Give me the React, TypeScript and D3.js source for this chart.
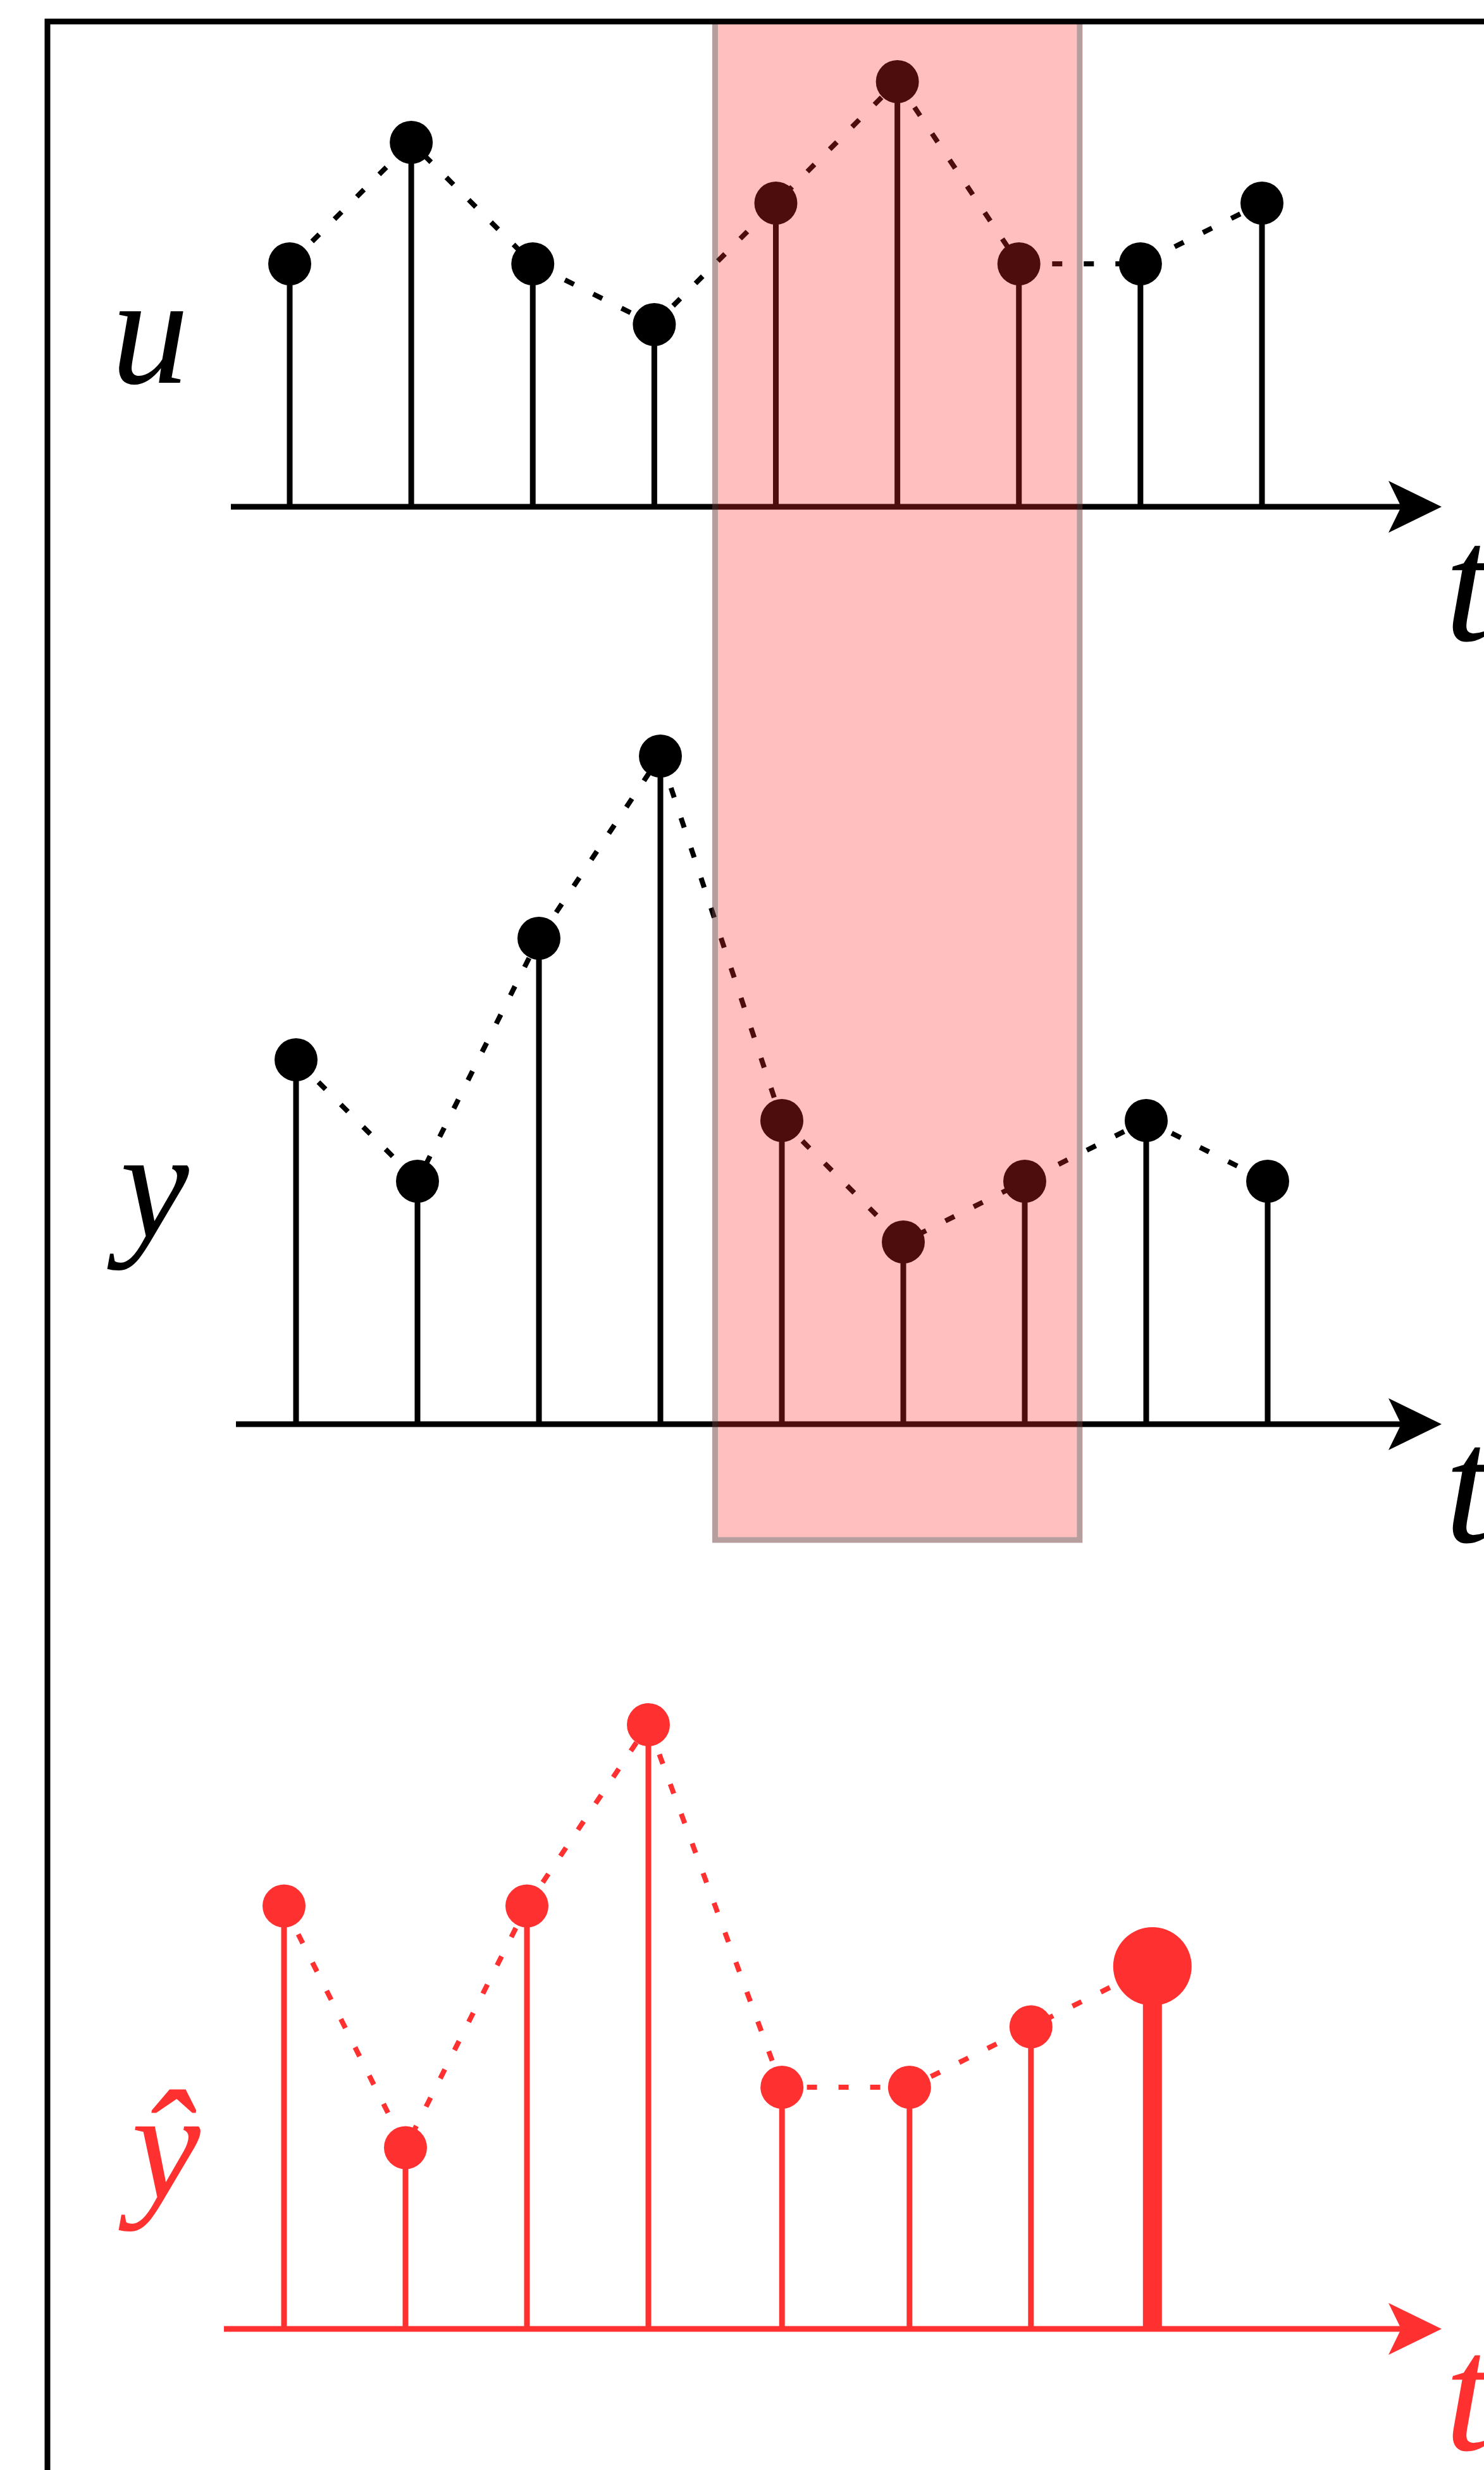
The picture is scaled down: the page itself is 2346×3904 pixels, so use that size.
import React from 'react';
import * as d3 from 'd3';

const W = 2346;
const H = 3904;

// Input signal u(t), measured output y(t) and the predicted output ŷ(t)
const steps = [0, 1, 2, 3, 4, 5, 6, 7, 8];
const uValues = [4, 6, 4, 3, 5, 7, 4, 4, 5];
const yValues = [6, 4, 8, 11, 5, 3, 4, 5, 4];
const yhatSteps = [0, 1, 2, 3, 4.1, 5.15, 6.15, 7.15];
const yhatValues = [7, 3, 7, 10, 4, 4, 5, 6];
// steps covered by the sliding window
const windowSteps = [3.5, 6.5];
const seriesLabels = ['u', 'y', 'ŷ'];
const axisLabel = 't';

const BLACK = '#000000';
const RED = '#ff3030';
const FONT = "'Liberation Serif', 'DejaVu Serif', serif";

type Pt = { t: number; v: number };

function Arrow({ tipX, y, color }: { tipX: number; y: number; color: string }) {
  const p = d3.path();
  p.moveTo(tipX, y);
  p.lineTo(tipX - 84, y - 41);
  p.lineTo(tipX - 64, y);
  p.lineTo(tipX - 84, y + 41);
  p.closePath();
  return <path d={p.toString()} fill={color} />;
}

function StemPanel({
  data,
  x,
  y,
  color,
  axisStart,
  axisEnd,
  label,
  labelX,
  labelY,
  tBaseline,
  emphasizeLast,
}: {
  data: Pt[];
  x: d3.ScaleLinear<number, number>;
  y: d3.ScaleLinear<number, number>;
  color: string;
  axisStart: number;
  axisEnd: number;
  label: string;
  labelX: number;
  labelY: number;
  tBaseline: number;
  emphasizeLast?: boolean;
}) {
  const base = y(0);
  const line = d3
    .line<Pt>()
    .x((d) => x(d.t))
    .y((d) => y(d.v));
  return (
    <g>
      <line x1={axisStart} x2={axisEnd - 60} y1={base} y2={base} stroke={color} strokeWidth={9} />
      <Arrow tipX={axisEnd} y={base} color={color} />
      <path d={line(data) || ''} fill="none" stroke={color} strokeWidth={8} strokeDasharray="16 34" />
      {data.map((d, i) => {
        const big = emphasizeLast && i === data.length - 1;
        return (
          <g key={i}>
            <line
              x1={x(d.t)}
              x2={x(d.t)}
              y1={base}
              y2={y(d.v)}
              stroke={color}
              strokeWidth={big ? 30 : 9}
            />
            <circle cx={x(d.t)} cy={y(d.v)} r={big ? 62 : 34} fill={color} />
          </g>
        );
      })}
      <text
        x={labelX}
        y={labelY}
        fontFamily={FONT}
        fontStyle="italic"
        fontSize={245}
        fill={color}
      >
        {label}
      </text>
      <text
        x={2284}
        y={tBaseline}
        fontFamily={FONT}
        fontStyle="italic"
        fontSize={265}
        fill={color}
      >
        {axisLabel}
      </text>
    </g>
  );
}

export default function App() {
  const xU = d3.scaleLinear().domain([0, 8]).range([458, 1995]);
  const xY = d3.scaleLinear().domain([0, 8]).range([468, 2004]);
  const xHat = d3.scaleLinear().domain([0, 1]).range([449, 641]);

  const yU = d3.scaleLinear().domain([0, 1]).range([801, 705]);
  const yY = d3.scaleLinear().domain([0, 1]).range([2251, 2155]);
  const yHat = d3.scaleLinear().domain([0, 1]).range([3681, 3585.5]);

  const uData: Pt[] = steps.map((t, i) => ({ t, v: uValues[i] }));
  const yData: Pt[] = steps.map((t, i) => ({ t, v: yValues[i] }));
  const hatData: Pt[] = yhatSteps.map((t, i) => ({ t, v: yhatValues[i] }));

  const wx0 = xU(windowSteps[0]);
  const wx1 = xU(windowSteps[1]);
  const wTop = 38;
  const wBottom = 2434;
  const sw = 9;

  return (
    <div style={{ position: 'absolute', left: 0, top: 0, width: W, height: H, overflow: 'hidden' }}>
      <svg width={W} height={H} viewBox={`0 0 ${W} ${H}`} style={{ display: 'block', background: '#ffffff' }}>
        <rect x={0} y={0} width={W} height={H} fill="#ffffff" />

        <StemPanel
          data={uData}
          x={xU}
          y={yU}
          color={BLACK}
          axisStart={365}
          axisEnd={2279}
          label={seriesLabels[0]}
          labelX={176}
          labelY={605}
          tBaseline={1012}
        />
        <StemPanel
          data={yData}
          x={xY}
          y={yY}
          color={BLACK}
          axisStart={373}
          axisEnd={2279}
          label={seriesLabels[1]}
          labelX={190}
          labelY={1955}
          tBaseline={2437}
        />
        <StemPanel
          data={hatData}
          x={xHat}
          y={yHat}
          color={RED}
          axisStart={354}
          axisEnd={2279}
          label={seriesLabels[2]}
          labelX={208}
          labelY={3474}
          tBaseline={3872}
          emphasizeLast
        />

        {/* sliding window over u and y */}
        <rect
          x={wx0 + sw / 2}
          y={wTop}
          width={wx1 - wx0 - sw}
          height={wBottom - wTop - sw / 2}
          fill="rgb(255,43,43)"
          fillOpacity={0.3}
        />
        <path
          d={`M${wx0},${wTop} V${wBottom} H${wx1} V${wTop}`}
          fill="none"
          stroke="rgb(110,62,62)"
          strokeOpacity={0.5}
          strokeWidth={sw}
        />

        {/* outer frame */}
        <rect x={75} y={34} width={3000} height={5000} fill="none" stroke={BLACK} strokeWidth={9} />
      </svg>
    </div>
  );
}
